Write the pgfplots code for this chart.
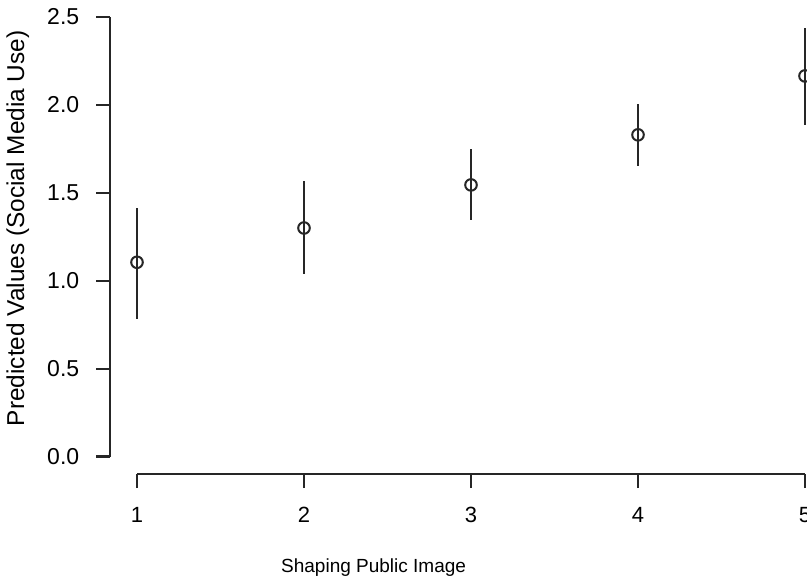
\documentclass[border=0pt]{standalone}
\usepackage{pgfplots}
\pgfplotsset{compat=1.18}
\usepackage{fontspec}
\setmainfont{Liberation Sans}
\begin{document}
\begin{tikzpicture}
\begin{axis}[
    scale only axis,
    width=360.7pt, height=237.3pt,
    xmin=0.84, xmax=5.16, ymin=-0.1, ymax=2.6,
    axis line style={draw=none},
    xtick={1,2,3,4,5},
    ytick={0,0.5,1,1.5,2,2.5},
    xtick pos=bottom, ytick pos=left,
    tick align=outside,
    major tick length=7pt,
    tick style={line width=1.1pt, black!85},
    /pgf/number format/assume math mode=true,
    yticklabel style={/pgf/number format/fixed, /pgf/number format/fixed zerofill,
        /pgf/number format/precision=1, font=\fontsize{11.5}{13}\selectfont, xshift=-5pt},
    xticklabel style={font=\fontsize{11}{13}\selectfont, yshift=-6pt},
    xlabel={Shaping Public Image},
    ylabel={Predicted Values (Social Media Use)},
    xlabel style={font=\fontsize{9.5}{11}\selectfont, at={(rel axis cs:0.365,-0.198)}, anchor=center},
    ylabel style={font=\fontsize{12.2}{14}\selectfont, at={(rel axis cs:-0.128,0.518)}, anchor=center},
    clip=false,
]
\addplot[black!85, only marks, mark=o, mark size=2.9pt, mark options={line width=1pt},
    error bars/.cd, y dir=both, y explicit, error mark=none,
    error bar style={line width=1.2pt, black!85}]
coordinates {
    (1,1.105) += (0,0.310) -= (0,0.320)
    (2,1.300) += (0,0.268) -= (0,0.260)
    (3,1.545) += (0,0.205) -= (0,0.198)
    (4,1.830) += (0,0.175) -= (0,0.177)
    (5,2.165) += (0,0.275) -= (0,0.279)
};
% R-style detached axis lines
\draw[line width=1.1pt, black!85] (axis cs:0.84,0) -- (axis cs:0.84,2.5);
\draw[line width=1.1pt, black!85] (axis cs:1,-0.1) -- (axis cs:5,-0.1);
\coordinate (bl) at (axis cs:0.1796,-0.723);
\coordinate (tr) at (axis cs:5.012,2.597);
\end{axis}
\pgfresetboundingbox
\useasboundingbox (bl) rectangle (tr);
\end{tikzpicture}
\end{document}
